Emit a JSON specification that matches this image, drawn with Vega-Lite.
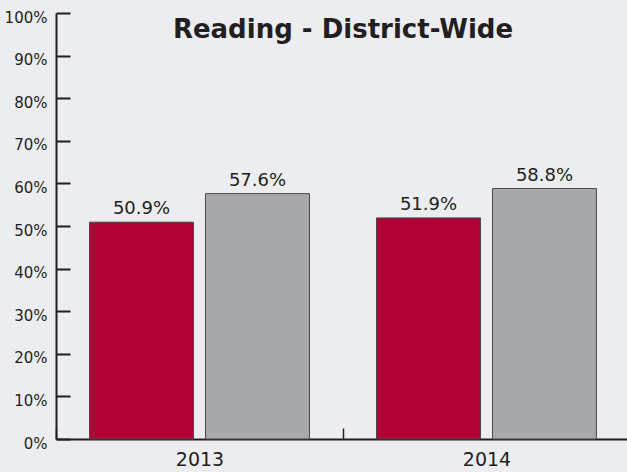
{
  "$schema": "https://vega.github.io/schema/vega-lite/v6.json",
  "autosize": "none",
  "width": 574,
  "height": 426,
  "padding": {"left": 56, "top": 13, "right": 0, "bottom": 33},
  "background": "#ecedf0",
  "title": {
    "text": "Reading - District-Wide",
    "font": "DejaVu Sans",
    "fontSize": 26,
    "fontWeight": "bold",
    "color": "#231f20",
    "anchor": "middle",
    "offset": -33
  },
  "data": {
    "values": [
      {"year": "2013", "series": "A", "value": 0.509},
      {"year": "2013", "series": "B", "value": 0.576},
      {"year": "2014", "series": "A", "value": 0.519},
      {"year": "2014", "series": "B", "value": 0.588}
    ]
  },
  "config": {
    "view": {"stroke": null},
    "axis": {"domainColor": "#231f20", "tickColor": "#231f20", "labelColor": "#231f20", "labelFont": "DejaVu Sans", "grid": false, "title": null}
  },
  "encoding": {
    "x": {
      "field": "year",
      "type": "nominal",
      "scale": {"paddingInner": 0, "paddingOuter": 0},
      "axis": {"labelAngle": 0, "labelFontSize": 19, "domainWidth": 2, "tickBand": "extent", "tickSize": -11, "tickWidth": 1.5, "labelPadding": 22}
    },
    "xOffset": {
      "field": "series",
      "type": "nominal",
      "scale": {"paddingInner": 0.1034, "paddingOuter": 0.289}
    },
    "y": {
      "field": "value",
      "type": "quantitative",
      "scale": {"domain": [0, 1]},
      "axis": {"values": [0,0.1,0.2,0.3,0.4,0.5,0.6,0.7,0.8,0.9,1], "format": ".0%", "labelFontSize": 15, "domainWidth": 2, "tickSize": -14, "tickWidth": 2, "labelPadding": 23, "labelOffset": 4}
    }
  },
  "layer": [
    {
      "mark": {"type": "bar", "stroke": "#4a4a4a", "strokeWidth": 1},
      "encoding": {
        "color": {
          "field": "series",
          "type": "nominal",
          "scale": {"domain": ["A", "B"], "range": ["#b00236", "#a7a8ab"]},
          "legend": null
        }
      }
    },
    {
      "mark": {"type": "text", "baseline": "bottom", "dy": -4, "fontSize": 18, "font": "DejaVu Sans", "color": "#231f20"},
      "encoding": {
        "text": {"field": "value", "type": "quantitative", "format": ".1%"},
        "y": {"field": "value", "type": "quantitative"}
      }
    }
  ]
}
